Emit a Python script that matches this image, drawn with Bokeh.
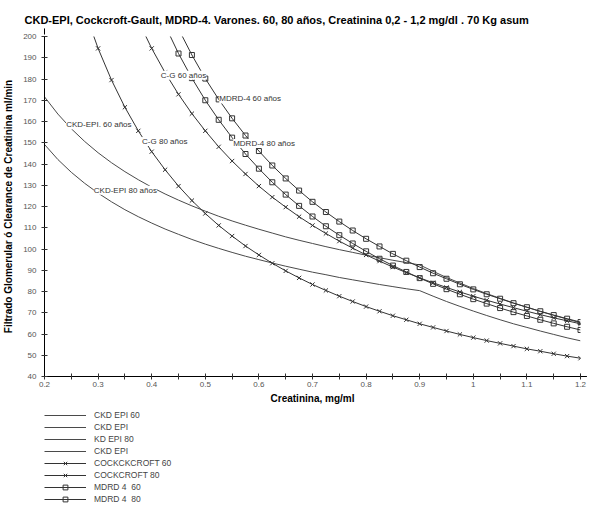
from bokeh.plotting import figure
from bokeh.layouts import column
from bokeh.models import (Range1d, FixedTicker, CustomJSTickFormatter, Legend,
                          LegendItem, Label, Arrow, NormalHead)
from bokeh.embed import file_html
from bokeh.resources import INLINE

# ---------------- data ----------------
creat = [0.2, 0.225, 0.25, 0.275, 0.3, 0.325, 0.35, 0.375, 0.4, 0.425,
         0.45, 0.475, 0.5, 0.525, 0.55, 0.575, 0.6, 0.625, 0.65, 0.675,
         0.7, 0.725, 0.75, 0.775, 0.8, 0.825, 0.85, 0.875, 0.9, 0.925,
         0.95, 0.975, 1.0, 1.025, 1.05, 1.075, 1.1, 1.125, 1.15, 1.175, 1.2]

# CKD-EPI, two pieces each (creatinine <= 0.9 and >= 0.9)
ckd60_low = [171.6, 163.5, 156.6, 150.6, 145.3, 140.6, 136.4, 132.6, 129.1, 125.9,
             123.0, 120.3, 117.8, 115.4, 113.2, 111.2, 109.3, 107.5, 105.7, 104.1,
             102.6, 101.1, 99.7, 98.4, 97.1, 95.9, 94.7, 93.6, 92.5]
ckd60_high = [92.5, 89.5, 86.6, 84.0, 81.4, 79.0, 76.8, 74.6, 72.6, 70.6, 68.8, 67.0, 65.3]
ckd80_low = [149.2, 142.1, 136.1, 130.9, 126.3, 122.2, 118.5, 115.2, 112.2, 109.4,
             106.9, 104.5, 102.3, 100.3, 98.4, 96.6, 95.0, 93.4, 91.9, 90.5,
             89.1, 87.9, 86.6, 85.5, 84.4, 83.3, 82.3, 81.3, 80.4]
ckd80_high = [80.4, 77.8, 75.3, 73.0, 70.8, 68.7, 66.7, 64.8, 63.1, 61.4, 59.8, 58.2, 56.8]

# Cockcroft-Gault (from creat 0.375 / 0.275 onwards)
cg60 = [207.4, 194.4, 183.0, 172.8, 163.7, 155.6, 148.1, 141.4, 135.3, 129.6,
        124.4, 119.7, 115.2, 111.1, 107.3, 103.7, 100.4, 97.2, 94.3, 91.5,
        88.9, 86.4, 84.1, 81.9, 79.8, 77.8, 75.9, 74.1, 72.4, 70.7,
        69.1, 67.6, 66.2, 64.8]
cg80 = [212.1, 194.4, 179.5, 166.7, 155.6, 145.8, 137.3, 129.6, 122.8, 116.7,
        111.1, 106.1, 101.4, 97.2, 93.3, 89.7, 86.4, 83.3, 80.5, 77.8,
        75.3, 72.9, 70.7, 68.6, 66.7, 64.8, 63.1, 61.4, 59.8, 58.3,
        56.9, 55.6, 54.3, 53.0, 51.9, 50.7, 49.6, 48.6]

# MDRD-4 (from creat 0.425 / 0.4 onwards)
mdrd60 = [217.5, 203.6, 191.3, 180.2, 170.4, 161.5, 153.4, 146.1, 139.3, 133.2,
          127.5, 122.2, 117.4, 112.9, 108.7, 104.8, 101.2, 97.7, 94.5, 91.5,
          88.6, 86.0, 83.4, 81.0, 78.7, 76.6, 74.5, 72.6, 70.7, 68.9,
          67.2, 65.6]
mdrd80 = [220.0, 205.2, 192.0, 180.4, 170.0, 160.8, 152.4, 144.7, 137.8, 131.4,
          125.6, 120.3, 115.3, 110.7, 106.5, 102.6, 98.9, 95.4, 92.2, 89.2,
          86.3, 83.6, 81.1, 78.7, 76.4, 74.3, 72.2, 70.3, 68.5, 66.7,
          65.0, 63.4, 61.9]

x_ticks = [0.2, 0.3, 0.4, 0.5, 0.6, 0.7, 0.8, 0.9, 1.0, 1.1, 1.2]
x_minor = [0.25, 0.35, 0.45, 0.55, 0.65, 0.75, 0.85, 0.95, 1.05, 1.15]
y_ticks = [40, 50, 60, 70, 80, 90, 100, 110, 120, 130, 140, 150, 160, 170, 180, 190, 200]

legend_labels = ["CKD EPI 60", "CKD EPI", "KD EPI 80", "CKD EPI",
                 "COCKCKCROFT 60", "COCKCROFT 80", "MDRD 4  60", "MDRD 4  80"]

curve_labels = ["CKD-EPI. 60 años", "C-G 80 años", "CKD-EPI 80 años",
                "C-G 60 años", "MDRD-4 60 años", "MDRD-4 80 años"]

title_text = ("CKD-EPI, Cockcroft-Gault, MDRD-4. Varones. 60, 80 años, "
              "Creatinina 0,2 - 1,2 mg/dl . 70 Kg asum")

FONT = "Liberation Sans"
line_c = "#333333"
ckd_c = "#4a4a4a"

n = len(creat)
i09 = creat.index(0.9)
xs_cg60 = creat[n - len(cg60):]
xs_cg80 = creat[n - len(cg80):]
xs_m60 = creat[n - len(mdrd60):]
xs_m80 = creat[n - len(mdrd80):]


def draw_series(fig):
    """Draw all series on a figure; returns renderers grouped per legend entry."""
    a = fig.line(creat[:i09 + 1], ckd60_low, line_color=ckd_c, line_width=1)
    b = fig.line(creat[i09:], ckd60_high, line_color=ckd_c, line_width=1)
    c = fig.line(creat[:i09 + 1], ckd80_low, line_color=ckd_c, line_width=1)
    d = fig.line(creat[i09:], ckd80_high, line_color=ckd_c, line_width=1)
    e1 = fig.line(xs_cg60, cg60, line_color=line_c, line_width=1)
    e2 = fig.scatter(xs_cg60, cg60, marker="x", size=6, line_color=line_c, line_width=1)
    f1 = fig.line(xs_cg80, cg80, line_color=line_c, line_width=1)
    f2 = fig.scatter(xs_cg80, cg80, marker="x", size=6, line_color=line_c, line_width=1)
    g1 = fig.line(xs_m60, mdrd60, line_color=line_c, line_width=1)
    g2 = fig.scatter(xs_m60, mdrd60, marker="square", size=5, line_color=line_c,
                     fill_color=None, line_width=1)
    h1 = fig.line(xs_m80, mdrd80, line_color=line_c, line_width=1)
    h2 = fig.scatter(xs_m80, mdrd80, marker="square", size=5, line_color=line_c,
                     fill_color=None, line_width=1)
    return [[a], [b], [c], [d], [e1, e2], [f1, f2], [g1, g2], [h1, h2]]


# ---------------- main figure ----------------
p = figure(width=587, height=409, output_backend="svg", toolbar_location=None,
           x_range=Range1d(0.2, 1.2), y_range=Range1d(40, 200),
           min_border_left=44, min_border_right=7, min_border_top=36,
           min_border_bottom=33)
p.background_fill_color = "white"
p.border_fill_color = "white"
p.outline_line_color = None
p.grid.visible = False

p.title.text = title_text
p.title.align = "left"
p.title.offset = -20
p.title.standoff = 22
p.title.text_font = FONT
p.title.text_font_size = "11px"
p.title.text_font_style = "bold"
p.title.text_color = "black"

draw_series(p)

# ---------------- axes ----------------
p.xaxis.ticker = FixedTicker(ticks=x_ticks, minor_ticks=x_minor)
p.xaxis.formatter = CustomJSTickFormatter(code="return String(Math.round(tick*10)/10)")
p.yaxis.ticker = FixedTicker(ticks=y_ticks)
p.xaxis.axis_label = "Creatinina, mg/ml"
p.yaxis.axis_label = "Filtrado Glomerular ó Clearance de Creatinina ml/min"
for ax in (p.xaxis[0], p.yaxis[0]):
    ax.axis_line_color = "black"
    ax.major_tick_line_color = "#333333"
    ax.minor_tick_line_color = "#333333"
    ax.major_tick_in = 3
    ax.major_tick_out = 3
    ax.minor_tick_in = 3
    ax.minor_tick_out = 3
    ax.major_label_text_font = FONT
    ax.major_label_text_font_size = "8px"
    ax.major_label_text_color = "#555555"
    ax.axis_label_text_font = FONT
    ax.axis_label_text_font_size = "10px"
    ax.axis_label_text_font_style = "bold"
    ax.axis_label_text_color = "black"
p.yaxis.minor_tick_line_color = None
p.yaxis.major_label_standoff = 5
p.yaxis.axis_label_standoff = 6
p.xaxis.major_label_standoff = 2
p.xaxis.axis_label_standoff = 3

# axis arrows
p.add_layout(Arrow(end=NormalHead(size=6, fill_color="black", line_color="black"),
                   x_start=0.2, y_start=200, x_end=0.2, y_end=203.8,
                   line_color="black", line_width=1))
p.add_layout(Arrow(end=NormalHead(size=6, fill_color="black", line_color="black"),
                   x_start=1.2, y_start=40, x_end=1.212, y_end=40,
                   line_color="black", line_width=1))
p.add_layout(Label(x=0.2, y=203.8, text="Y", x_offset=4, text_baseline="middle",
                   text_font=FONT, text_font_size="8px", text_color="#555555"))

# ---------------- curve labels ----------------
label_pos = [(0.2405, 158.5), (0.382, 150.6), (0.292, 127.7),
             (0.417, 181.8), (0.526, 170.6), (0.552, 149.6)]
for txt, (lx, ly) in zip(curve_labels, label_pos):
    p.add_layout(Label(x=lx, y=ly, text=txt, text_baseline="middle",
                       text_font=FONT, text_font_size="8px", text_color="#333333",
                       background_fill_color="white"))

# ---------------- legend (own strip under the chart) ----------------
# The strip holds the same series, out of its visible range, so that the
# legend can draw each entry's line and marker sample.
lg = figure(width=587, height=96, output_backend="svg", toolbar_location=None,
            x_range=Range1d(0.2, 1.2), y_range=Range1d(1000, 1001),
            min_border_left=32, min_border_right=0, min_border_top=0,
            min_border_bottom=0)
lg.outline_line_color = None
lg.grid.visible = False
lg.axis.visible = False
lg.background_fill_color = "white"
lg.border_fill_color = "white"

item_renderers = draw_series(lg)
items = [LegendItem(label=lab, renderers=rs) for lab, rs in zip(legend_labels, item_renderers)]
legend = Legend(items=items, location="top_left", glyph_width=42, glyph_height=12,
                label_height=12, spacing=0, padding=0, margin=0, label_standoff=8,
                label_text_font=FONT, label_text_font_size="8.5px",
                label_text_color="#444444", border_line_color=None,
                background_fill_alpha=0)
lg.add_layout(legend)

layout = column(p, lg, spacing=0)
open("out.html", "w").write(file_html(layout, INLINE))
